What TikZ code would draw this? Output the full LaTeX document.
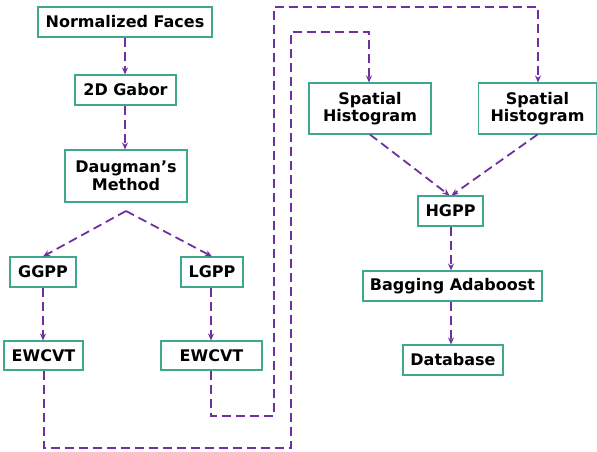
\documentclass[tikz,border=0pt]{standalone}
\usepackage{fontspec}
\setmainfont{DejaVu Sans}
\usetikzlibrary{arrows.meta}
\definecolor{boxc}{RGB}{62,168,140}
\definecolor{arrc}{RGB}{112,48,160}
\begin{document}
\begin{tikzpicture}[x=1pt,y=-1pt,
  box/.style={draw=boxc,line width=1.1pt,fill=white,align=center,inner sep=0pt,
    font=\fontsize{16}{17.5}\selectfont\bfseries},
  conn/.style={draw=arrc,line width=1.8pt,dash pattern=on 9pt off 5pt},
  arr/.style={conn,-{Stealth[length=7pt,width=6pt]}}]
\useasboundingbox (0,0) rectangle (597,451);
\node[box,minimum width=174pt,minimum height=30pt] (nf) at (125,22) {Normalized Faces};
\node[box,minimum width=101pt,minimum height=30pt] (gb) at (125.5,90) {2D Gabor};
\node[box,minimum width=122pt,minimum height=52pt] (dm) at (126,176) {Daugman’s\\Method};
\node[box,minimum width=66pt,minimum height=30pt] (gg) at (43,272) {GGPP};
\node[box,minimum width=62pt,minimum height=30pt] (lg) at (212,272) {LGPP};
\node[box,minimum width=79pt,minimum height=29pt] (e1) at (43.5,355.5) {EWCVT};
\node[box,minimum width=101pt,minimum height=29pt] (e2) at (211.5,355.5) {EWCVT};
\node[box,minimum width=122pt,minimum height=51pt] (s1) at (370,108.5) {Spatial\\Histogram};
\node[box,minimum width=118pt,minimum height=51pt] (s2) at (537.5,108.5) {Spatial\\Histogram};
\node[box,minimum width=65pt,minimum height=30pt] (hg) at (450.5,211) {HGPP};
\node[box,minimum width=179pt,minimum height=30pt] (ba) at (452.5,286) {Bagging Adaboost};
\node[box,minimum width=100pt,minimum height=30pt] (db) at (453,360) {Database};
\coordinate (apex) at (126,211);
\coordinate (a1) at (44,448);
\coordinate (a2) at (291,448);
\coordinate (a3) at (291,32);
\coordinate (a4) at (369,32);
\coordinate (b1) at (211,416);
\coordinate (b2) at (274,416);
\coordinate (b3) at (274,7);
\coordinate (b4) at (538,7);
\coordinate (c1) at (125,0);
\coordinate (c2) at (43,0);
\coordinate (c3) at (211,0);
\coordinate (c4) at (451,0);
\draw[arr] (c1|-nf.south) -- (c1|-gb.north);
\draw[arr] (c1|-gb.south) -- (c1|-dm.north);
\draw[arr] (apex) -- (gg.north);
\draw[arr] (apex) -- (lg.north);
\draw[arr] (c2|-gg.south) -- (c2|-e1.north);
\draw[arr] (c3|-lg.south) -- (c3|-e2.north);
\draw[arr] (a1|-e1.south) -- (a1) -- (a2) -- (a3) -- (a4) -- (a4|-s1.north);
\draw[arr] (b1|-e2.south) -- (b1) -- (b2) -- (b3) -- (b4) -- (b4|-s2.north);
\draw[arr] (s1.south) -- ([xshift=-1pt]hg.north);
\draw[arr] (s2.south) -- ([xshift=1pt]hg.north);
\draw[arr] (c4|-hg.south) -- (c4|-ba.north);
\draw[arr] (c4|-ba.south) -- (c4|-db.north);
\end{tikzpicture}
\end{document}
